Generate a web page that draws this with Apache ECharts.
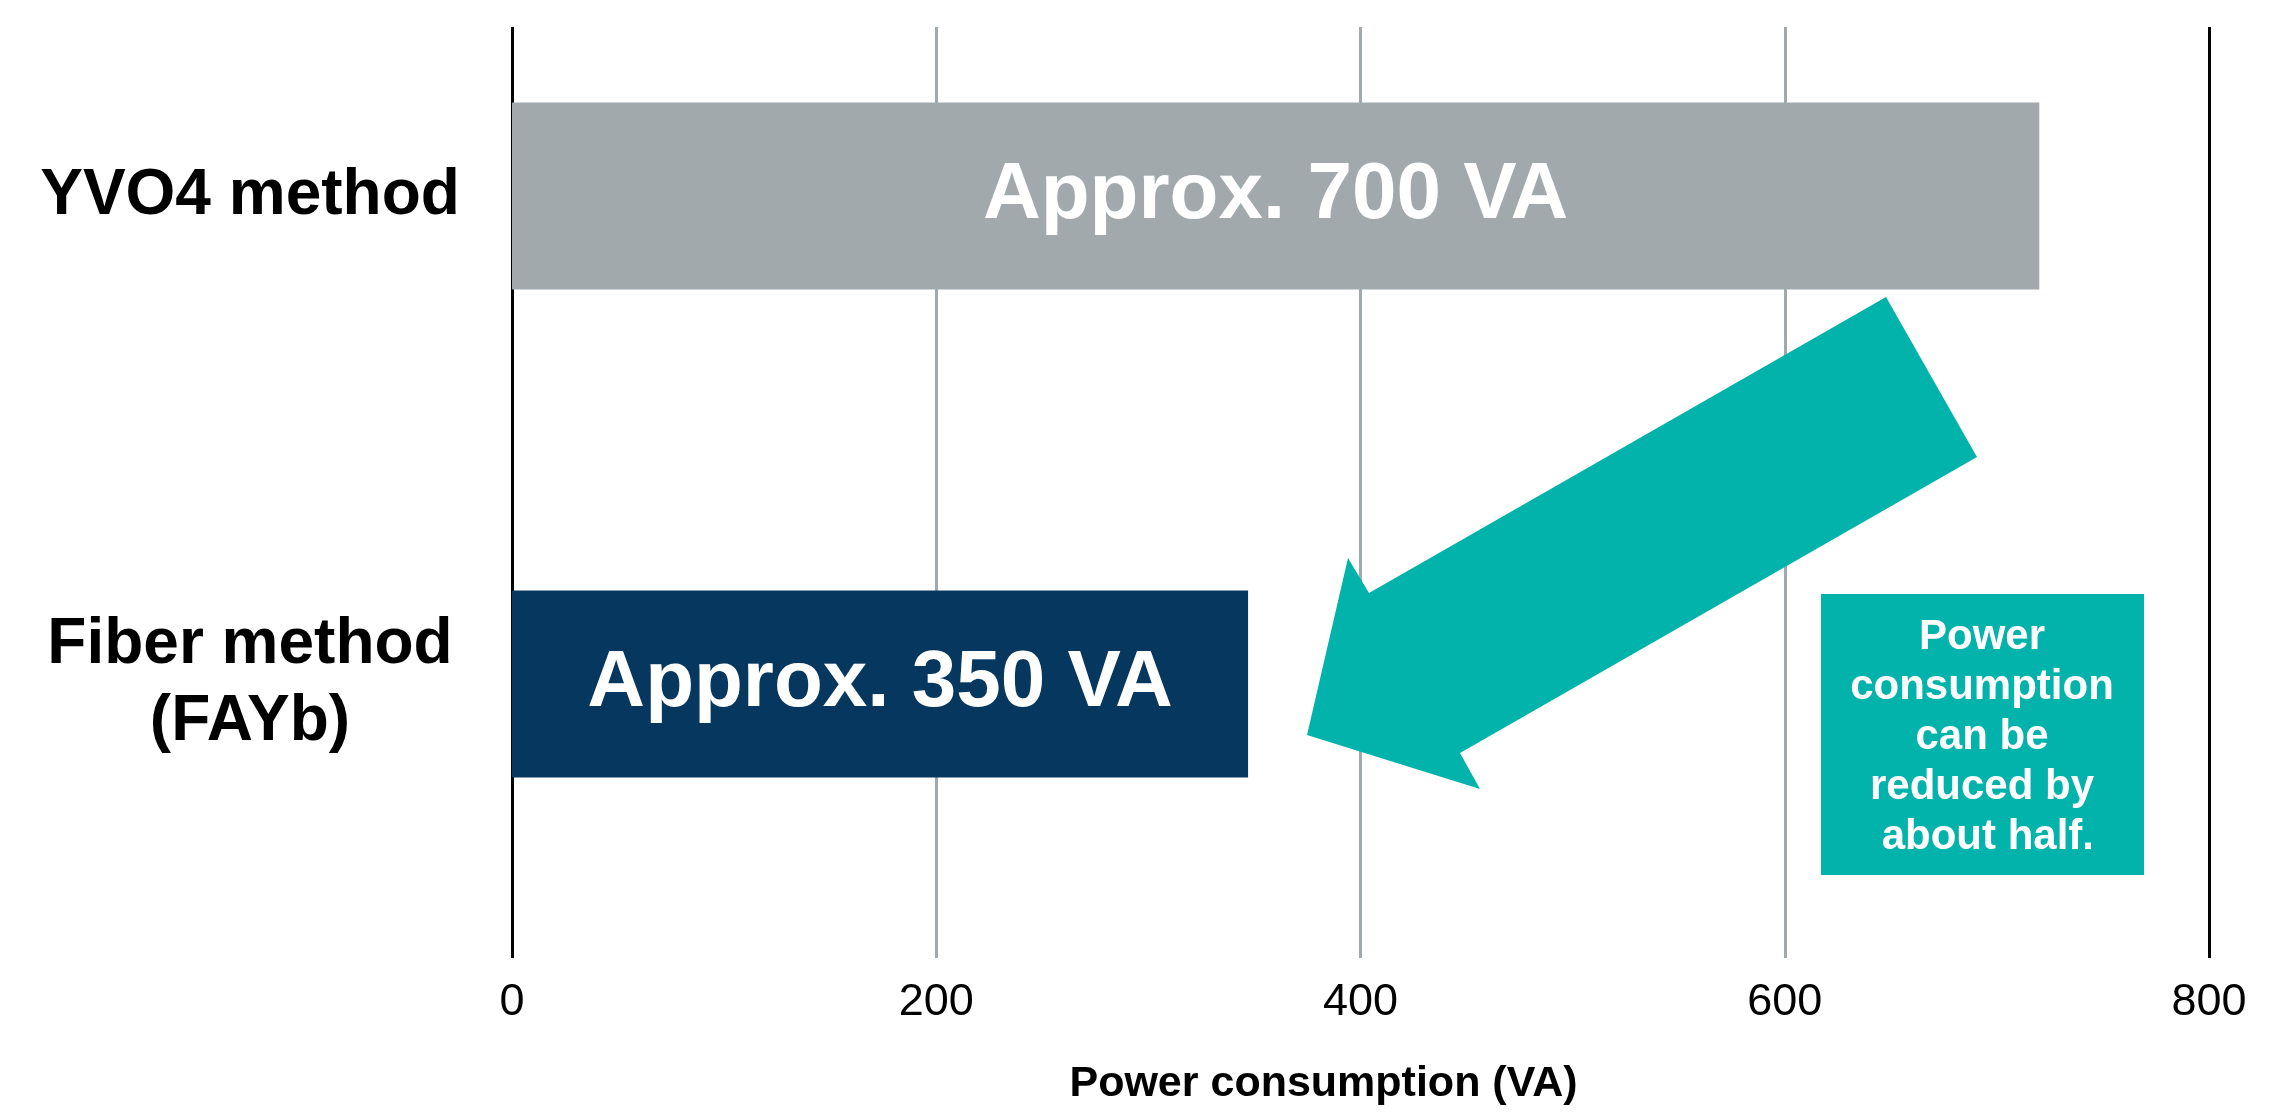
<!DOCTYPE html>
<html>
<head>
<meta charset="utf-8">
<script src="https://cdn.jsdelivr.net/npm/echarts@6/dist/echarts.min.js"></script>
<style>
  html, body { margin: 0; padding: 0; background: #fff; }
  #chart { width: 2280px; height: 1119px; }
</style>
</head>
<body>
<div id="chart"></div>
<script>
// 数据
const categories = ['YVO4 method', 'Fiber method\n(FAYb)'];
const powerValues = [720, 347];
const barLabels = ['Approx. 700 VA', 'Approx. 350 VA'];
const barColors = ['#a2a9ac', '#05375f'];
const xTicks = [0, 200, 400, 600, 800];
const noteLines = ['Power', 'consumption', 'can be', 'reduced by', ' about half.'];

const FONT = '"Liberation Sans", Arial, Helvetica, sans-serif';

document.addEventListener('DOMContentLoaded', function() {
    const chartDom = document.getElementById('chart');
    const myChart = echarts.init(chartDom);

    const option = {
        backgroundColor: '#ffffff',
        animation: false,
        grid: [
            // 坐标轴和网格线
            { left: 512, right: 71, top: 27, bottom: 161, containLabel: false, outerBoundsMode: 'none' },
            // 柱子
            { left: 512, right: 71, top: -48, bottom: 191, containLabel: false, outerBoundsMode: 'none' }
        ],
        xAxis: [
            {
                gridIndex: 0,
                type: 'value',
                min: xTicks[0],
                max: xTicks[xTicks.length - 1],
                interval: xTicks[1] - xTicks[0],
                name: 'Power consumption (VA)',
                nameLocation: 'middle',
                nameGap: 105,
                nameTextStyle: {
                    fontFamily: FONT,
                    fontSize: 43,
                    fontWeight: 'bold',
                    color: '#000',
                    padding: [0, 74, 0, 0]
                },
                axisLine: { show: false },
                axisTick: { show: false },
                axisLabel: {
                    fontFamily: FONT,
                    fontSize: 45,
                    color: '#000',
                    margin: 22
                },
                splitLine: {
                    show: true,
                    lineStyle: {
                        color: ['#000000', '#a2a9ac', '#a2a9ac', '#a2a9ac', '#000000'],
                        width: 3
                    }
                }
            },
            {
                gridIndex: 1,
                type: 'value',
                min: xTicks[0],
                max: xTicks[xTicks.length - 1],
                show: false
            }
        ],
        yAxis: [
            {
                gridIndex: 0,
                type: 'category',
                data: categories,
                show: false
            },
            {
                gridIndex: 1,
                type: 'category',
                data: categories,
                inverse: true,
                axisLine: { show: false },
                axisTick: { show: false },
                splitLine: { show: false },
                axisLabel: {
                    fontFamily: FONT,
                    fontSize: 64,
                    fontWeight: 'bold',
                    color: '#000',
                    align: 'center',
                    lineHeight: 77,
                    margin: 262
                }
            }
        ],
        series: [
            {
                name: 'Power consumption',
                type: 'bar',
                xAxisIndex: 1,
                yAxisIndex: 1,
                barWidth: 187,
                data: powerValues.map(function(v, i) {
                    return { value: v, itemStyle: { color: barColors[i] } };
                }),
                label: {
                    show: true,
                    position: 'inside',
                    formatter: function(p) { return barLabels[p.dataIndex]; },
                    fontFamily: FONT,
                    fontSize: 80,
                    fontWeight: 'bold',
                    color: '#ffffff'
                }
            }
        ],
        graphic: [
            // 箭头
            {
                type: 'polygon',
                shape: {
                    points: [[1886, 297], [1977, 457], [1460, 753], [1480, 789], [1307, 735], [1348, 558], [1369, 593]]
                },
                style: { fill: '#02b3ab' },
                z: 100
            },
            // 说明框
            {
                type: 'rect',
                shape: { x: 1821, y: 594, width: 323, height: 281 },
                style: { fill: '#02b3ab' },
                z: 100
            },
            {
                type: 'text',
                x: 1982,
                y: 737,
                style: {
                    text: noteLines.join('\n'),
                    fontFamily: FONT,
                    fontSize: 42,
                    fontWeight: 'bold',
                    lineHeight: 50,
                    fill: '#ffffff',
                    align: 'center',
                    verticalAlign: 'middle'
                },
                z: 101
            }
        ]
    };

    myChart.setOption(option);

    window.addEventListener('resize', function() {
        myChart.resize();
    });
});
</script>
</body>
</html>
